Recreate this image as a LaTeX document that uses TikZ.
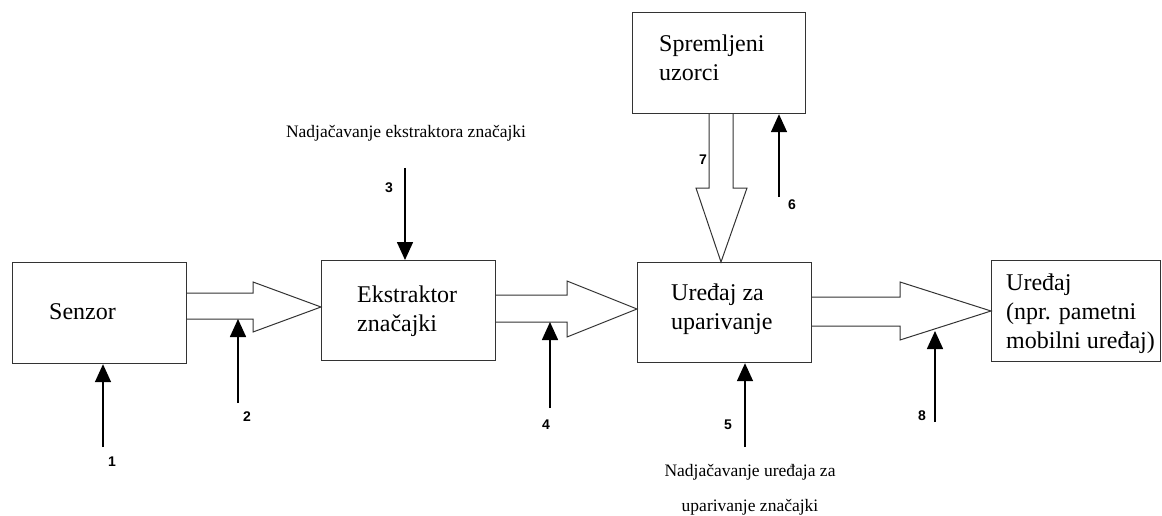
\documentclass[tikz,border=0pt]{standalone}
\usepackage{fontspec}
\setmainfont{Liberation Serif}
\newfontfamily\numfont{Liberation Sans}
\usetikzlibrary{arrows.meta}
\begin{document}
\begin{tikzpicture}[x=1pt,y=-1pt,
  box/.style={draw=black!80, line width=1.2pt, inner sep=0pt, anchor=north west},
  boxtext/.style={inner sep=0pt, anchor=west, align=left, font=\fontsize{24}{29}\selectfont},
  hollow/.style={draw=black!80, line width=1pt, fill=white, line join=miter},
  sig/.style={-{Triangle[width=16pt,length=18pt]}, line width=1.6pt},
  num/.style={inner sep=0pt, font=\numfont\bfseries\fontsize{14}{16}\selectfont},
  ann/.style={inner sep=0pt, font=\fontsize{17.5}{20}\selectfont}]
\useasboundingbox (0,0) rectangle (1162,516);

% boxes
\node[box, minimum width=174pt, minimum height=101pt] (senzor) at (12,262) {};
\node[box, minimum width=174pt, minimum height=100pt] (ekstr) at (321,260) {};
\node[box, minimum width=174pt, minimum height=100pt] (upar) at (637,262) {};
\node[box, minimum width=173pt, minimum height=101pt] (sprem) at (632,12) {};
\node[box, minimum width=169pt, minimum height=101pt] (uredjaj) at (991,260) {};

% box texts
\node[boxtext] (tsenzor) at (49,312) {Senzor};
\node[boxtext] (tekstr) at (357,311) {Ekstraktor\\značajki};
\node[boxtext] (tupar) at (671,309.5) {Uređaj za\\uparivanje};
\node[boxtext] (tsprem) at (659,57.5) {Spremljeni\\uzorci};
\node[boxtext] (turedjaj) at (1006,313.5) {Uređaj\\(npr. pametni\\mobilni uređaj)};

% hollow arrows
\draw[hollow] (senzor.east |- 0,293) -- (253,293) -- (253,282) -- (ekstr.west |- 0,307)
  -- (253,332) -- (253,319) -- (senzor.east |- 0,319);
\draw[hollow] (ekstr.east |- 0,295) -- (567,295) -- (567,281) -- (upar.west |- 0,309)
  -- (567,337) -- (567,322) -- (ekstr.east |- 0,322);
\draw[hollow] (upar.east |- 0,297) -- (900,297) -- (900,282) -- (uredjaj.west |- 0,311)
  -- (900,340) -- (900,326) -- (upar.east |- 0,326);
\draw[hollow] (709,0 |- sprem.south) -- (709,188) -- (696,188) -- (721,0 |- upar.north)
  -- (747,188) -- (733,188) -- (733,0 |- sprem.south);

% signal arrows
\coordinate (s1) at (103,447);
\coordinate (s2) at (238,403);
\coordinate (e2) at (238,319);
\coordinate (s3) at (405,168);
\coordinate (s4) at (550,408);
\coordinate (e4) at (550,322);
\coordinate (s5) at (745,447);
\coordinate (s6) at (779,197);
\coordinate (s8) at (935,422);
\coordinate (e8) at (935,331);
\draw[sig] (s1) -- (s1 |- senzor.south);
\draw[sig] (s2) -- (e2);
\draw[sig] (s3) -- (s3 |- ekstr.north);
\draw[sig] (s4) -- (e4);
\draw[sig] (s5) -- (s5 |- upar.south);
\draw[sig] (s6) -- (s6 |- sprem.south);
\draw[sig] (s8) -- (e8);

% numbers
\node[num] (n1) at (112,462) {1};
\node[num] (n2) at (247,417) {2};
\node[num] (n3) at (389,188) {3};
\node[num] (n4) at (546,425) {4};
\node[num] (n5) at (728,425) {5};
\node[num] (n6) at (792,205) {6};
\node[num] (n7) at (703,160) {7};
\node[num] (n8) at (922,416) {8};

% annotations
\node[ann] (a3) at (406,133) {Nadjačavanje ekstraktora značajki};
\node[ann] (a5a) at (750,472) {Nadjačavanje uređaja za};
\node[ann] (a5b) at (750,507) {uparivanje značajki};
\end{tikzpicture}
\end{document}
